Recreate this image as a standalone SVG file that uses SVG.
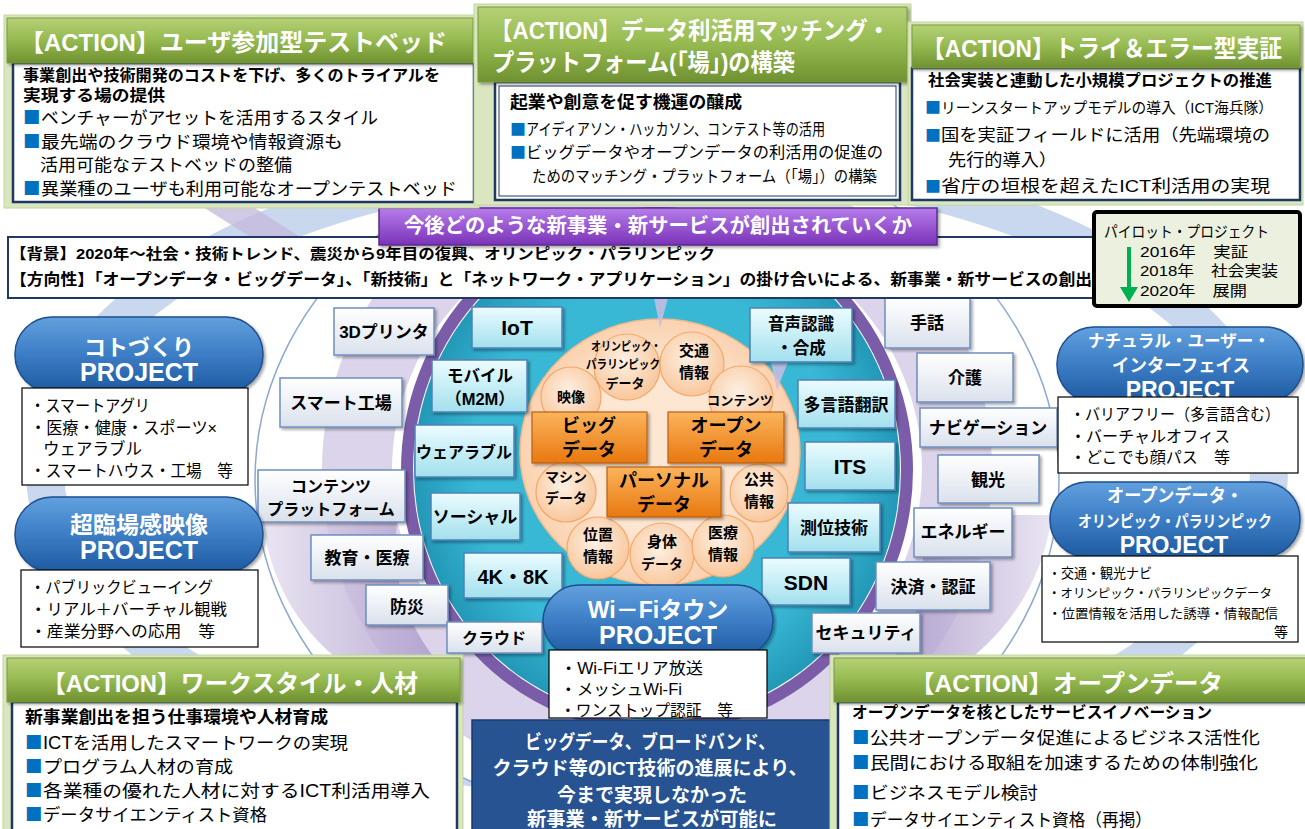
<svg xmlns="http://www.w3.org/2000/svg" width="1305" height="829" viewBox="0 0 1305 829">
<defs>
<filter id="sh" x="-10%" y="-10%" width="130%" height="140%"><feDropShadow dx="2" dy="2" stdDeviation="1.5" flood-color="#000" flood-opacity="0.35"/></filter>
<linearGradient id="gHdr" x1="0" y1="0" x2="0" y2="1"><stop offset="0" stop-color="#B5D176"/><stop offset="0.5" stop-color="#95B950"/><stop offset="1" stop-color="#6F9130"/></linearGradient>
<linearGradient id="gPill" x1="0" y1="0" x2="0" y2="1"><stop offset="0" stop-color="#62A0DE"/><stop offset="0.5" stop-color="#3C7DC5"/><stop offset="1" stop-color="#1E5AA0"/></linearGradient>
<linearGradient id="gCyan" x1="0" y1="0" x2="0" y2="1"><stop offset="0" stop-color="#ECFCFF"/><stop offset="1" stop-color="#A2E0ED"/></linearGradient>
<linearGradient id="gWhite" x1="0" y1="0" x2="0" y2="1"><stop offset="0" stop-color="#FFFFFF"/><stop offset="1" stop-color="#DAE1EC"/></linearGradient>
<linearGradient id="gOrange" x1="0" y1="0" x2="0" y2="1"><stop offset="0" stop-color="#FBB45C"/><stop offset="1" stop-color="#E8780F"/></linearGradient>
<radialGradient id="gBub" cx="0.45" cy="0.4" r="0.6"><stop offset="0" stop-color="#FEF0E3"/><stop offset="1" stop-color="#F9C79C"/></radialGradient>
<linearGradient id="gPurple" x1="0" y1="0" x2="0" y2="1"><stop offset="0" stop-color="#B67CEB"/><stop offset="1" stop-color="#7A33B8"/></linearGradient>
<radialGradient id="gTeal" cx="0.5" cy="0.5" r="0.5"><stop offset="0.75" stop-color="#38B8D5"/><stop offset="1" stop-color="#2398B7"/></radialGradient>
<radialGradient id="gPeach" cx="0.5" cy="0.5" r="0.5"><stop offset="0.6" stop-color="#FDE6D2"/><stop offset="1" stop-color="#FAD2B0"/></radialGradient>
<linearGradient id="gLav" x1="0" y1="0" x2="1" y2="0"><stop offset="0" stop-color="#E4DEEF"/><stop offset="1" stop-color="#A896C8"/></linearGradient>
<linearGradient id="gLavR" x1="1" y1="0" x2="0" y2="0"><stop offset="0" stop-color="#E4DEEF"/><stop offset="1" stop-color="#A896C8"/></linearGradient>
</defs>
<style>
text{font-family:"Liberation Sans","Noto Sans CJK JP",sans-serif;}
.hd{font-size:24px;font-weight:bold;fill:#fff;}
.bt{font-size:17px;font-weight:bold;fill:#000;}
.bl{font-size:17.5px;fill:#000;}
.sq{fill:#0070C0;font-family:"Noto Sans CJK JP",sans-serif;}
.panel{fill:#D9E6C0;stroke:#C2D69B;stroke-width:1;}
.hbar{fill:url(#gHdr);stroke:#7A9A3E;stroke-width:1;filter:url(#sh);}
.body{fill:#fff;stroke:#1F3864;stroke-width:2.5;}
.tech{fill:url(#gCyan);stroke:#4F81BD;stroke-width:1.5;filter:url(#sh);}
.app{fill:url(#gWhite);stroke:#6F8FBF;stroke-width:1.5;filter:url(#sh);}
.ob{fill:url(#gOrange);stroke:#B9600F;stroke-width:1.2;filter:url(#sh);}
.bub{fill:url(#gBub);stroke:#F4A86A;stroke-width:1.2;}
.bx{font-size:17px;font-weight:bold;text-anchor:middle;fill:#000;}
.bs{font-size:14px;font-weight:bold;text-anchor:middle;fill:#000;}
.pill{fill:url(#gPill);stroke:#1D4F8F;stroke-width:1.5;filter:url(#sh);}
.pt{fill:#fff;font-weight:bold;text-anchor:middle;}
.lst{fill:#fff;stroke:#000;stroke-width:1.2;}
.lt{font-size:16px;fill:#000;}
.wt{fill:#fff;font-weight:bold;text-anchor:middle;font-size:19px;}
</style>

<g id="background">
<ellipse cx="657" cy="470" rx="612" ry="312" fill="none" stroke="#C9D8EF" stroke-width="38"/>
<polygon points="200,205 250,205 305,240 255,240" fill="#C7BCDD" opacity="0.8"/>
<ellipse cx="657" cy="480" rx="402" ry="340" fill="#fff" stroke="#8EA8CF" stroke-width="1.5"/>
<ellipse cx="657" cy="470" rx="300" ry="290" fill="none" stroke="#BDB0D8" stroke-opacity="0.55" stroke-width="70"/>
<path d="M262,515 Q272,610 345,665 L440,665 Q385,600 398,515 Z" fill="url(#gLav)" opacity="0.8"/>
<path d="M1052,515 Q1040,600 975,655 L895,655 Q935,595 918,515 Z" fill="url(#gLavR)" opacity="0.8"/>
<ellipse cx="657" cy="470" rx="250" ry="257" fill="none" stroke="#7B5CA8" stroke-width="12"/>
<ellipse cx="657" cy="470" rx="243" ry="250" fill="url(#gTeal)"/>
<ellipse cx="660" cy="452" rx="140" ry="133" fill="url(#gPeach)" stroke="#F5B889" stroke-width="1.5"/>
</g>

<g id="connectors">
<polygon points="771,362 788,362 777,390" fill="#C8BEE0" opacity="0.85"/>
<polygon points="654,298 668,298 660,328" fill="#C8BEE0" opacity="0.85"/>
</g>

<g id="bubbles">
<g id="b-eizo"><circle class="bub" cx="571" cy="397" r="30"/><text class="bs" x="571" y="402">映像</text></g>
<g id="b-olympic"><circle class="bub" cx="627" cy="367" r="33"/>
<text class="bs" x="626" y="351" style="font-size:12px" textLength="70" lengthAdjust="spacingAndGlyphs">オリンピック・</text>
<text class="bs" x="623" y="369" style="font-size:12px" textLength="74" lengthAdjust="spacingAndGlyphs">パラリンピック</text>
<text class="bs" x="625" y="388" style="font-size:13px">データ</text></g>
<g id="b-kotsu"><circle class="bub" cx="692" cy="364" r="32"/><text class="bs" x="694" y="356" style="font-size:15px">交通</text><text class="bs" x="694" y="378" style="font-size:15px">情報</text></g>
<g id="b-contents"><circle class="bub" cx="741" cy="398" r="32"/><text class="bs" x="740" y="405" style="font-size:13px" textLength="66" lengthAdjust="spacingAndGlyphs">コンテンツ</text></g>
<g id="b-machine"><circle class="bub" cx="566" cy="492" r="30"/><text class="bs" x="566" y="482">マシン</text><text class="bs" x="566" y="503">データ</text></g>
<g id="b-kokyo"><circle class="bub" cx="759" cy="493" r="29"/><text class="bs" x="759" y="485" style="font-size:15px">公共</text><text class="bs" x="759" y="507" style="font-size:15px">情報</text></g>
<g id="b-ichi"><circle class="bub" cx="598" cy="548" r="31"/><text class="bs" x="598" y="540" style="font-size:15px">位置</text><text class="bs" x="598" y="562" style="font-size:15px">情報</text></g>
<g id="b-shintai"><circle class="bub" cx="662" cy="555" r="32"/><text class="bs" x="662" y="547" style="font-size:15px">身体</text><text class="bs" x="662" y="569">データ</text></g>
<g id="b-iryo"><circle class="bub" cx="723" cy="546" r="31"/><text class="bs" x="723" y="538" style="font-size:15px">医療</text><text class="bs" x="723" y="560" style="font-size:15px">情報</text></g>
</g>

<g id="data-boxes">
<g id="bigdata"><rect class="ob" x="532" y="412" width="115" height="51"/><text class="bx" x="589" y="432" style="font-size:18px">ビッグ</text><text class="bx" x="589" y="456" style="font-size:18px">データ</text></g>
<g id="opendata"><rect class="ob" x="668" y="412" width="116" height="51"/><text class="bx" x="726" y="432" style="font-size:18px">オープン</text><text class="bx" x="726" y="456" style="font-size:18px">データ</text></g>
<g id="personaldata"><rect class="ob" x="607" y="467" width="114" height="50"/><text class="bx" x="664" y="487" style="font-size:18px">パーソナル</text><text class="bx" x="664" y="511" style="font-size:18px">データ</text></g>
</g>

<g id="tech">
<g id="t-iot"><rect class="tech" x="472" y="307" width="90" height="41"/><text class="bx" x="517" y="335" style="font-size:21px">IoT</text></g>
<g id="t-mobile"><rect class="tech" x="432" y="360" width="95" height="52"/><text class="bx" x="480" y="382" style="font-size:16.5px">モバイル</text><text class="bx" x="480" y="405" style="font-size:16.5px">（M2M）</text></g>
<g id="t-wear"><rect class="tech" x="415" y="425" width="99" height="52"/><text class="bx" x="464" y="458" style="font-size:16px">ウェアラブル</text></g>
<g id="t-social"><rect class="tech" x="431" y="493" width="89" height="47"/><text class="bx" x="475" y="523">ソーシャル</text></g>
<g id="t-4k8k"><rect class="tech" x="464" y="553" width="98" height="45"/><text class="bx" x="513" y="584" style="font-size:20px">4K・8K</text></g>
<g id="t-onsei"><rect class="tech" x="750" y="308" width="102" height="54"/><text class="bx" x="801" y="330" style="font-size:16.5px">音声認識</text><text class="bx" x="801" y="354" style="font-size:16.5px">・合成</text></g>
<g id="t-tagengo"><rect class="tech" x="798" y="380" width="97" height="48"/><text class="bx" x="846" y="411">多言語翻訳</text></g>
<g id="t-its"><rect class="tech" x="805" y="442" width="90" height="48"/><text class="bx" x="850" y="474" style="font-size:21px">ITS</text></g>
<g id="t-sokui"><rect class="tech" x="788" y="503" width="92" height="49"/><text class="bx" x="834" y="534">測位技術</text></g>
<g id="t-sdn"><rect class="tech" x="762" y="558" width="88" height="47"/><text class="bx" x="806" y="590" style="font-size:21px">SDN</text></g>
</g>

<g id="apps">
<g id="a-3d"><rect class="app" x="334" y="308" width="100" height="47"/><text class="bx" x="384" y="338">3Dプリンタ</text></g>
<g id="a-smart"><rect class="app" x="280" y="378" width="122" height="49"/><text class="bx" x="341" y="409">スマート工場</text></g>
<g id="a-cpf"><rect class="app" x="258" y="470" width="147" height="52"/><text class="bx" x="331" y="492" style="font-size:16px">コンテンツ</text><text class="bx" x="331" y="515" style="font-size:16px">プラットフォーム</text></g>
<g id="a-kyoiku"><rect class="app" x="311" y="535" width="112" height="45"/><text class="bx" x="367" y="564">教育・医療</text></g>
<g id="a-bosai"><rect class="app" x="366" y="585" width="82" height="40"/><text class="bx" x="407" y="613">防災</text></g>
<g id="a-cloud"><rect class="app" x="447" y="622" width="95" height="31"/><text class="bx" x="494" y="644" style="font-size:16px">クラウド</text></g>
<g id="a-shuwa"><rect class="app" x="885" y="298" width="85" height="50"/><text class="bx" x="927" y="329">手話</text></g>
<g id="a-kaigo"><rect class="app" x="917" y="353" width="96" height="49"/><text class="bx" x="965" y="384">介護</text></g>
<g id="a-navi"><rect class="app" x="920" y="408" width="137" height="39"/><text class="bx" x="988" y="434">ナビゲーション</text></g>
<g id="a-kanko"><rect class="app" x="938" y="455" width="101" height="48"/><text class="bx" x="988" y="486">観光</text></g>
<g id="a-energy"><rect class="app" x="914" y="508" width="98" height="49"/><text class="bx" x="963" y="538">エネルギー</text></g>
<g id="a-kessai"><rect class="app" x="876" y="562" width="114" height="48"/><text class="bx" x="933" y="593">決済・認証</text></g>
<g id="a-security"><rect class="app" x="812" y="613" width="108" height="40"/><text class="bx" x="866" y="639">セキュリティ</text></g>
</g>

<g id="proj-kotozukuri">
<rect class="pill" x="15" y="317" width="248" height="75" rx="37"/>
<text class="pt" x="139" y="355" style="font-size:22px">コトづくり</text>
<text class="pt" x="139" y="381" style="font-size:25px">PROJECT</text>
<rect class="lst" x="22" y="388" width="226" height="97"/>
<text class="lt" x="30" y="412" style="font-size:16.5px" textLength="120" lengthAdjust="spacingAndGlyphs">・スマートアグリ</text>
<text class="lt" x="30" y="434" style="font-size:16.5px" textLength="187" lengthAdjust="spacingAndGlyphs">・医療・健康・スポーツ×</text>
<text class="lt" x="43" y="455" style="font-size:16.5px">ウェアラブル</text>
<text class="lt" x="30" y="477" style="font-size:16.5px" textLength="203" lengthAdjust="spacingAndGlyphs">・スマートハウス・工場　等</text>
</g>

<g id="proj-choringo">
<rect class="pill" x="15" y="497" width="248" height="75" rx="37"/>
<text class="pt" x="139" y="533" style="font-size:23px">超臨場感映像</text>
<text class="pt" x="139" y="559" style="font-size:25px">PROJECT</text>
<rect class="lst" x="21" y="570" width="237" height="77"/>
<text class="lt" x="30" y="593" textLength="183" lengthAdjust="spacingAndGlyphs">・パブリックビューイング</text>
<text class="lt" x="30" y="615" textLength="197" lengthAdjust="spacingAndGlyphs">・リアル＋バーチャル観戦</text>
<text class="lt" x="30" y="637" textLength="185" lengthAdjust="spacingAndGlyphs">・産業分野への応用　等</text>
</g>

<g id="proj-nui">
<rect class="pill" x="1057" y="327" width="246" height="75" rx="37"/>
<text class="pt" x="1179" y="347" style="font-size:17px" textLength="182" lengthAdjust="spacingAndGlyphs">ナチュラル・ユーザー・</text>
<text class="pt" x="1181" y="372" style="font-size:18px" textLength="138" lengthAdjust="spacingAndGlyphs">インターフェイス</text>
<text class="pt" x="1180" y="398" style="font-size:23px">PROJECT</text>
<rect class="lst" x="1058" y="397" width="240" height="76"/>
<text class="lt" x="1070" y="420" textLength="210" lengthAdjust="spacingAndGlyphs">・バリアフリー（多言語含む）</text>
<text class="lt" x="1070" y="442" textLength="160" lengthAdjust="spacingAndGlyphs">・バーチャルオフィス</text>
<text class="lt" x="1070" y="463" textLength="160" lengthAdjust="spacingAndGlyphs">・どこでも顔パス　等</text>
</g>

<g id="proj-odop">
<rect class="pill" x="1050" y="482" width="250" height="75" rx="37"/>
<text class="pt" x="1175" y="502" style="font-size:18px" textLength="136" lengthAdjust="spacingAndGlyphs">オープンデータ・</text>
<text class="pt" x="1175" y="527" style="font-size:16px" textLength="194" lengthAdjust="spacingAndGlyphs">オリンピック・パラリンピック</text>
<text class="pt" x="1174" y="553" style="font-size:23px">PROJECT</text>
<rect class="lst" x="1042" y="556" width="256" height="86"/>
<text class="lt" x="1048" y="578" style="font-size:14px" textLength="104" lengthAdjust="spacingAndGlyphs">・交通・観光ナビ</text>
<text class="lt" x="1048" y="598" style="font-size:12.5px" textLength="224" lengthAdjust="spacingAndGlyphs">・オリンピック・パラリンピックデータ</text>
<text class="lt" x="1048" y="618" style="font-size:13px" textLength="230" lengthAdjust="spacingAndGlyphs">・位置情報を活用した誘導・情報配信</text>
<text class="lt" x="1288" y="637" style="font-size:14px" text-anchor="end">等</text>
</g>

<g id="proj-wifi">
<rect class="pill" x="543" y="585" width="230" height="72" rx="36"/>
<text class="pt" x="658" y="618" style="font-size:23px">Wi－Fiタウン</text>
<text class="pt" x="658" y="644" style="font-size:25px">PROJECT</text>
<rect class="lst" x="549" y="650" width="218" height="68"/>
<text class="lt" x="560" y="674" textLength="143" lengthAdjust="spacingAndGlyphs">・Wi-Fiエリア放送</text>
<text class="lt" x="560" y="695" textLength="122" lengthAdjust="spacingAndGlyphs">・メッシュWi-Fi</text>
<text class="lt" x="560" y="716" textLength="173" lengthAdjust="spacingAndGlyphs">・ワンストップ認証　等</text>
</g>

<g id="ict-message">
<rect x="472" y="720" width="360" height="115" fill="#275392" stroke="#1A3A6B" stroke-width="1.5"/>
<text class="wt" x="650" y="749" textLength="250" lengthAdjust="spacingAndGlyphs">ビッグデータ、ブロードバンド、</text>
<text class="wt" x="650" y="775" textLength="315" lengthAdjust="spacingAndGlyphs">クラウド等のICT技術の進展により、</text>
<text class="wt" x="652" y="802" textLength="190" lengthAdjust="spacingAndGlyphs">今まで実現しなかった</text>
<text class="wt" x="652" y="826" textLength="250" lengthAdjust="spacingAndGlyphs">新事業・新サービスが可能に</text>
</g>

<g id="background-text">
<rect x="8" y="237" width="1090" height="61" fill="#fff" stroke="#1F3864" stroke-width="2"/>
<text x="10" y="259" style="font-size:15px;font-weight:bold" textLength="705" lengthAdjust="spacingAndGlyphs">【背景】2020年～社会・技術トレンド、震災から9年目の復興、オリンピック・パラリンピック</text>
<text x="10" y="285" style="font-size:16px;font-weight:bold" textLength="1082" lengthAdjust="spacingAndGlyphs">【方向性】「オープンデータ・ビッグデータ」、「新技術」と「ネットワーク・アプリケーション」の掛け合いによる、新事業・新サービスの創出</text>
</g>

<g id="question-banner">
<rect x="379" y="208" width="558" height="37" fill="url(#gPurple)" stroke="#5B2C88" stroke-width="1.5" filter="url(#sh)"/>
<text x="658" y="233" style="font-size:20px;font-weight:bold;fill:#fff" text-anchor="middle" textLength="508" lengthAdjust="spacingAndGlyphs">今後どのような新事業・新サービスが創出されていくか</text>
</g>

<g id="pilot">
<rect x="1094" y="212" width="206" height="94" rx="3" fill="#EBF1DE" stroke="#000" stroke-width="4"/>
<text x="1104" y="237" style="font-size:15px" textLength="165" lengthAdjust="spacingAndGlyphs">パイロット・プロジェクト</text>
<text x="1140" y="257" style="font-size:15px" textLength="108" lengthAdjust="spacingAndGlyphs">2016年　実証</text>
<text x="1140" y="276" style="font-size:15px" textLength="138" lengthAdjust="spacingAndGlyphs">2018年　社会実装</text>
<text x="1140" y="296" style="font-size:15px" textLength="107" lengthAdjust="spacingAndGlyphs">2020年　展開</text>
<line x1="1129" y1="247" x2="1129" y2="290" stroke="#00B050" stroke-width="4"/>
<polygon points="1120,287 1138,287 1129,302" fill="#00B050"/>
</g>

<g id="action-testbed">
<rect class="panel" x="4" y="15" width="475" height="193"/>
<rect class="body" x="13" y="63" width="461" height="139"/>
<rect class="hbar" x="7" y="18" width="466" height="45"/>
<text class="hd" x="20" y="51" textLength="427" lengthAdjust="spacingAndGlyphs">【ACTION】ユーザ参加型テストベッド</text>
<text class="bt" x="23" y="81" style="font-size:16px" textLength="417" lengthAdjust="spacingAndGlyphs">事業創出や技術開発のコストを下げ、多くのトライアルを</text>
<text class="bt" x="23" y="101" style="font-size:16px" textLength="142" lengthAdjust="spacingAndGlyphs">実現する場の提供</text>
<text class="bl sq" x="23" y="124">■</text><text class="bl" x="41" y="124" textLength="337" lengthAdjust="spacingAndGlyphs">ベンチャーがアセットを活用するスタイル</text>
<text class="bl sq" x="23" y="148">■</text><text class="bl" x="41" y="148" textLength="302" lengthAdjust="spacingAndGlyphs">最先端のクラウド環境や情報資源も</text>
<text class="bl" x="40" y="171" style="font-size:17px" textLength="252" lengthAdjust="spacingAndGlyphs">活用可能なテストベッドの整備</text>
<text class="bl sq" x="23" y="195">■</text><text class="bl" x="41" y="195" textLength="416" lengthAdjust="spacingAndGlyphs">異業種のユーザも利用可能なオープンテストベッド</text>
</g>

<g id="action-matching">
<rect class="panel" x="474" y="4" width="437" height="201"/>
<rect class="body" x="495" y="82" width="405" height="118" stroke-width="3.5"/>
<rect x="499" y="86" width="397" height="110" fill="none" stroke="#1F3864" stroke-width="1"/>
<rect class="hbar" x="478" y="7" width="429" height="75"/>
<text class="hd" x="490" y="39" textLength="400" lengthAdjust="spacingAndGlyphs">【ACTION】データ利活用マッチング・</text>
<text class="hd" x="492" y="71" textLength="303" lengthAdjust="spacingAndGlyphs">プラットフォーム(「場」)の構築</text>
<text class="bt" x="510" y="108" textLength="232" lengthAdjust="spacingAndGlyphs">起業や創意を促す機運の醸成</text>
<text class="bl sq" x="510" y="135" style="font-size:16px">■</text><text class="bl" x="526" y="135" style="font-size:16px" textLength="299" lengthAdjust="spacingAndGlyphs">アイディアソン・ハッカソン、コンテスト等の活用</text>
<text class="bl sq" x="510" y="158" style="font-size:16px">■</text><text class="bl" x="526" y="158" style="font-size:16px" textLength="357" lengthAdjust="spacingAndGlyphs">ビッグデータやオープンデータの利活用の促進の</text>
<text class="bl" x="532" y="182" style="font-size:16px" textLength="345" lengthAdjust="spacingAndGlyphs">ためのマッチング・プラットフォーム（「場」）の構築</text>
</g>

<g id="action-trial">
<rect class="panel" x="908" y="22" width="395" height="183"/>
<rect class="body" x="912" y="68" width="388" height="132"/>
<rect class="hbar" x="912" y="25" width="388" height="43"/>
<text class="hd" x="922" y="57" textLength="360" lengthAdjust="spacingAndGlyphs">【ACTION】トライ＆エラー型実証</text>
<text class="bt" x="928" y="86" style="font-size:16px" textLength="344" lengthAdjust="spacingAndGlyphs">社会実装と連動した小規模プロジェクトの推進</text>
<text class="bl sq" x="925" y="113" style="font-size:16px">■</text><text class="bl" x="941" y="113" style="font-size:15px" textLength="332" lengthAdjust="spacingAndGlyphs">リーンスタートアップモデルの導入（ICT海兵隊）</text>
<text class="bl sq" x="925" y="141" style="font-size:16px">■</text><text class="bl" x="941" y="141" style="font-size:16.5px" textLength="329" lengthAdjust="spacingAndGlyphs">国を実証フィールドに活用（先端環境の</text>
<text class="bl" x="948" y="166" style="font-size:16.5px" textLength="109" lengthAdjust="spacingAndGlyphs">先行的導入）</text>
<text class="bl sq" x="925" y="192" style="font-size:16px">■</text><text class="bl" x="941" y="192" style="font-size:16.5px" textLength="329" lengthAdjust="spacingAndGlyphs">省庁の垣根を超えたICT利活用の実現</text>
</g>

<g id="action-workstyle">
<rect class="panel" x="3" y="655" width="460" height="180"/>
<rect class="body" x="12" y="702" width="445" height="135"/>
<rect class="hbar" x="7" y="658" width="453" height="44"/>
<text class="hd" x="42" y="692" textLength="376" lengthAdjust="spacingAndGlyphs">【ACTION】ワークスタイル・人材</text>
<text class="bt" x="25" y="723" textLength="303" lengthAdjust="spacingAndGlyphs">新事業創出を担う仕事環境や人材育成</text>
<text class="bl sq" x="25" y="749">■</text><text class="bl" x="43" y="749" textLength="305" lengthAdjust="spacingAndGlyphs">ICTを活用したスマートワークの実現</text>
<text class="bl sq" x="25" y="773">■</text><text class="bl" x="43" y="773" textLength="190" lengthAdjust="spacingAndGlyphs">プログラム人材の育成</text>
<text class="bl sq" x="25" y="797">■</text><text class="bl" x="43" y="797" textLength="387" lengthAdjust="spacingAndGlyphs">各業種の優れた人材に対するICT利活用導入</text>
<text class="bl sq" x="25" y="821">■</text><text class="bl" x="43" y="821" textLength="224" lengthAdjust="spacingAndGlyphs">データサイエンティスト資格</text>
</g>

<g id="action-opendata">
<rect class="panel" x="830" y="655" width="480" height="180"/>
<rect class="body" x="838" y="702" width="470" height="135"/>
<rect class="hbar" x="834" y="658" width="474" height="44"/>
<text class="hd" x="910" y="692" textLength="313" lengthAdjust="spacingAndGlyphs">【ACTION】オープンデータ</text>
<text class="bt" x="852" y="718" style="font-size:16px" textLength="360" lengthAdjust="spacingAndGlyphs">オープンデータを核としたサービスイノベーション</text>
<text class="bl sq" x="852" y="744">■</text><text class="bl" x="870" y="744" textLength="390" lengthAdjust="spacingAndGlyphs">公共オープンデータ促進によるビジネス活性化</text>
<text class="bl sq" x="852" y="769">■</text><text class="bl" x="870" y="769" textLength="388" lengthAdjust="spacingAndGlyphs">民間における取組を加速するための体制強化</text>
<text class="bl sq" x="852" y="799">■</text><text class="bl" x="870" y="799" textLength="168" lengthAdjust="spacingAndGlyphs">ビジネスモデル検討</text>
<text class="bl sq" x="852" y="826">■</text><text class="bl" x="870" y="826" textLength="282" lengthAdjust="spacingAndGlyphs">データサイエンティスト資格（再掲）</text>
</g>
</svg>
